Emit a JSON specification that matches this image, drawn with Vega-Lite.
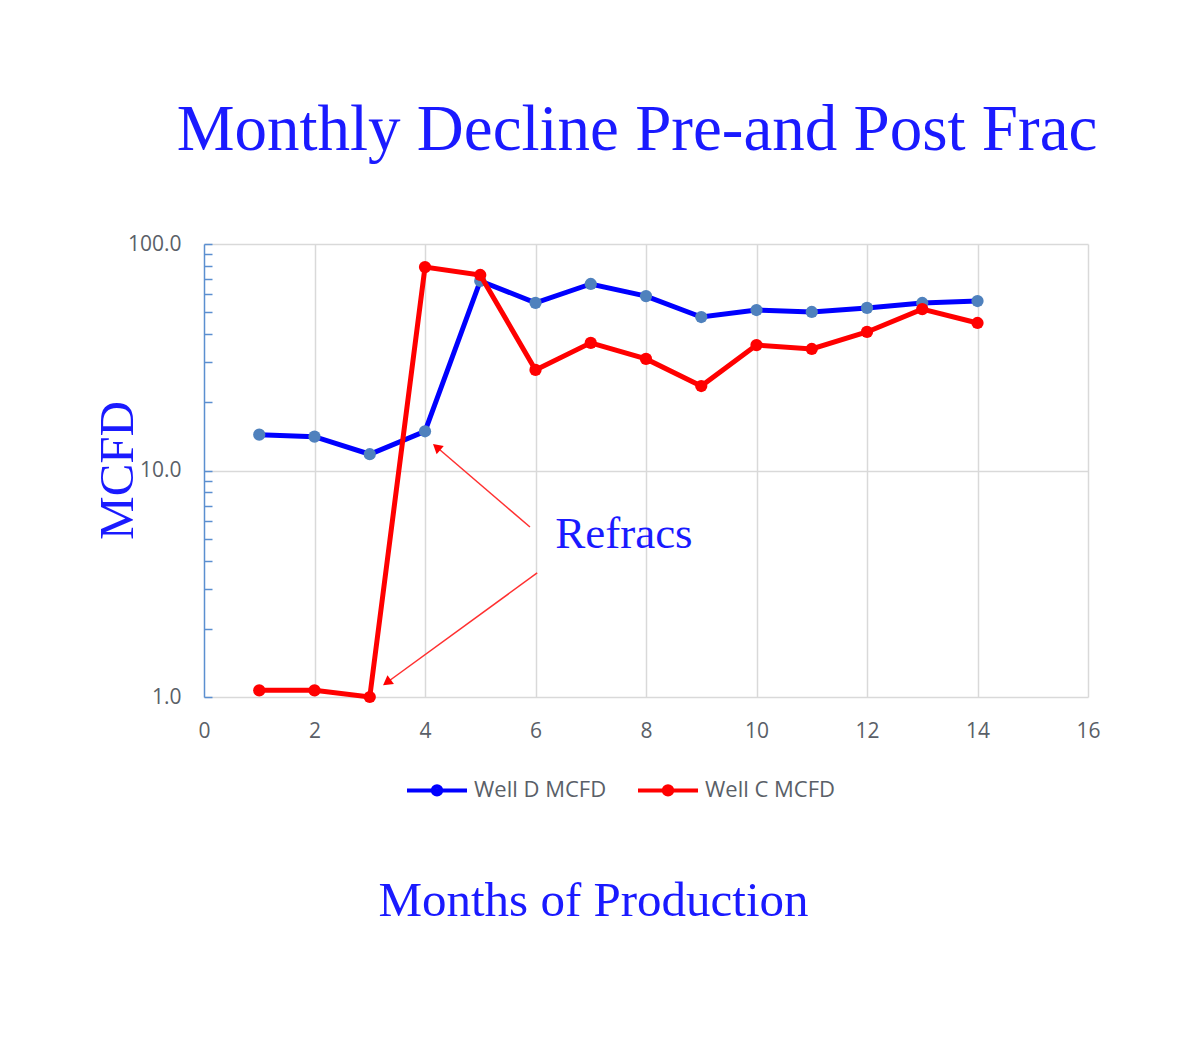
{
  "$schema": "https://vega.github.io/schema/vega-lite/v6.json",
  "width": 884,
  "height": 453,
  "autosize": {"type": "none"},
  "padding": {"left": 204, "top": 244, "right": 92, "bottom": 353},
  "background": "white",
  "title": {
    "text": "Monthly Decline Pre-and Post Frac",
    "font": "Liberation Serif",
    "fontSize": 65,
    "fontWeight": "normal",
    "color": "#1a1aff",
    "anchor": "middle",
    "frame": "group",
    "baseline": "alphabetic",
    "offset": 18,
    "dx": -9
  },
  "config": {"view": {"stroke": null}},
  "datasets": {
    "wells": [
      {"month": 1, "mcfd": 14.4, "well": "Well D MCFD"},
      {"month": 2, "mcfd": 14.1, "well": "Well D MCFD"},
      {"month": 3, "mcfd": 11.8, "well": "Well D MCFD"},
      {"month": 4, "mcfd": 14.9, "well": "Well D MCFD"},
      {"month": 5, "mcfd": 68.7, "well": "Well D MCFD"},
      {"month": 6, "mcfd": 55.0, "well": "Well D MCFD"},
      {"month": 7, "mcfd": 66.6, "well": "Well D MCFD"},
      {"month": 8, "mcfd": 58.9, "well": "Well D MCFD"},
      {"month": 9, "mcfd": 47.6, "well": "Well D MCFD"},
      {"month": 10, "mcfd": 51.1, "well": "Well D MCFD"},
      {"month": 11, "mcfd": 50.1, "well": "Well D MCFD"},
      {"month": 12, "mcfd": 52.2, "well": "Well D MCFD"},
      {"month": 13, "mcfd": 54.9, "well": "Well D MCFD"},
      {"month": 14, "mcfd": 56.0, "well": "Well D MCFD"},
      {"month": 1, "mcfd": 1.07, "well": "Well C MCFD"},
      {"month": 2, "mcfd": 1.07, "well": "Well C MCFD"},
      {"month": 3, "mcfd": 1.0, "well": "Well C MCFD"},
      {"month": 4, "mcfd": 79.1, "well": "Well C MCFD"},
      {"month": 5, "mcfd": 73.0, "well": "Well C MCFD"},
      {"month": 6, "mcfd": 27.8, "well": "Well C MCFD"},
      {"month": 7, "mcfd": 36.6, "well": "Well C MCFD"},
      {"month": 8, "mcfd": 31.1, "well": "Well C MCFD"},
      {"month": 9, "mcfd": 23.6, "well": "Well C MCFD"},
      {"month": 10, "mcfd": 35.8, "well": "Well C MCFD"},
      {"month": 11, "mcfd": 34.4, "well": "Well C MCFD"},
      {"month": 12, "mcfd": 40.9, "well": "Well C MCFD"},
      {"month": 13, "mcfd": 51.6, "well": "Well C MCFD"},
      {"month": 14, "mcfd": 44.8, "well": "Well C MCFD"}
    ]
  },
  "encoding": {
    "x": {
      "field": "month",
      "type": "quantitative",
      "scale": {"domain": [0, 16], "nice": false, "zero": false},
      "axis": {
        "title": "Months of Production",
        "titleFont": "Liberation Serif",
        "titleFontSize": 49,
        "titleFontWeight": "normal",
        "titleColor": "#1a1aff",
        "titleX": 389,
        "titleY": 218,
        "titleAlign": "center",
        "titleBaseline": "alphabetic",
        "values": [0, 2, 4, 6, 8, 10, 12, 14, 16],
        "format": "d",
        "labelFont": "Open Sans",
        "labelFontSize": 21,
        "labelColor": "#5a5f68",
        "labelPadding": 23,
        "labelFlush": false,
        "ticks": false,
        "domainColor": "#d9d9d9",
        "domainWidth": 1.5,
        "gridColor": "#d9d9d9",
        "gridWidth": 1.5,
        "gridOpacity": {"condition": {"test": "datum.value > 0", "value": 1}, "value": 0}
      }
    },
    "y": {
      "field": "mcfd",
      "type": "quantitative",
      "scale": {"type": "log", "domain": [1, 100], "nice": false},
      "axis": {
        "title": "MCFD",
        "titleFont": "Liberation Serif",
        "titleFontSize": 49,
        "titleFontWeight": "normal",
        "titleColor": "#1a1aff",
        "titleX": -72,
        "titleY": 226,
        "titleAngle": -90,
        "titleAlign": "center",
        "titleBaseline": "alphabetic",
        "values": [1, 2, 3, 4, 5, 6, 7, 8, 9, 10, 20, 30, 40, 50, 60, 70, 80, 90, 100],
        "labelExpr": "(datum.value == 1 || datum.value == 10 || datum.value == 100) ? format(datum.value, '.1f') : ''",
        "labelFont": "Open Sans",
        "labelFontSize": 21,
        "labelColor": "#5a5f68",
        "labelPadding": 31,
        "labelFlush": false,
        "labelOverlap": false,
        "tickSize": -8,
        "tickColor": "#5b8fd0",
        "tickWidth": 1.5,
        "domainColor": "#5b8fd0",
        "domainWidth": 1.5,
        "gridColor": "#d9d9d9",
        "gridWidth": 1.5,
        "gridOpacity": {"condition": {"test": "datum.value == 10 || datum.value == 100", "value": 1}, "value": 0}
      }
    }
  },
  "layer": [
    {
      "data": {"name": "wells"},
      "transform": [{"filter": "datum.well === 'Well D MCFD'"}],
      "mark": {"type": "line", "strokeWidth": 5},
      "encoding": {
        "color": {
          "field": "well",
          "type": "nominal",
          "scale": {"domain": ["Well D MCFD", "Well C MCFD"], "range": ["#0000ff", "#ff0000"]},
          "legend": {
            "title": null,
            "orient": "none",
            "legendX": 201,
            "legendY": 514,
            "direction": "horizontal",
            "symbolType": "M-1,0L1,0M0.14,0A0.14,0.14 0 1 1 -0.14,0A0.14,0.14 0 1 1 0.14,0Z",
            "symbolSize": 3600,
            "symbolStrokeWidth": 4,
            "labelFont": "Open Sans",
            "labelFontSize": 22,
            "labelColor": "#5a5f68",
            "labelOffset": 5,
            "columnPadding": 23,
            "encode": {
              "symbols": {
                "update": {
                  "fill": {"signal": "datum.value === 'Well D MCFD' ? '#4f81bd' : '#ff0000'"},
                  "opacity": {"value": 1}
                }
              }
            }
          }
        }
      }
    },
    {
      "data": {"name": "wells"},
      "transform": [{"filter": "datum.well === 'Well D MCFD'"}],
      "mark": {"type": "point", "filled": true, "size": 150, "color": "#4f81bd", "opacity": 1}
    },
    {
      "data": {"name": "wells"},
      "transform": [{"filter": "datum.well === 'Well C MCFD'"}],
      "mark": {"type": "line", "strokeWidth": 5},
      "encoding": {
        "color": {"field": "well", "type": "nominal"}
      }
    },
    {
      "data": {"name": "wells"},
      "transform": [{"filter": "datum.well === 'Well C MCFD'"}],
      "mark": {"type": "point", "filled": true, "size": 150, "color": "#ff0000", "opacity": 1}
    },
    {
      "data": {"values": [{"month": 5.9, "mcfd": 5.63, "month2": 4.21, "mcfd2": 12.7}]},
      "mark": {"type": "rule", "color": "#ff3030", "strokeWidth": 1.5},
      "encoding": {"x2": {"field": "month2"}, "y2": {"field": "mcfd2"}}
    },
    {
      "data": {"values": [{"month": 4.21, "mcfd": 12.7}]},
      "mark": {"type": "point", "shape": "triangle-up", "angle": 310.6, "filled": true, "color": "#ff0000", "size": 120, "opacity": 1}
    },
    {
      "data": {"values": [{"month": 6.03, "mcfd": 3.53, "month2": 3.31, "mcfd2": 1.159}]},
      "mark": {"type": "rule", "color": "#ff3030", "strokeWidth": 1.5},
      "encoding": {"x2": {"field": "month2"}, "y2": {"field": "mcfd2"}}
    },
    {
      "data": {"values": [{"month": 3.31, "mcfd": 1.159}]},
      "mark": {"type": "point", "shape": "triangle-up", "angle": 233.9, "filled": true, "color": "#ff0000", "size": 120, "opacity": 1}
    },
    {
      "data": {"values": [{"month": 7.6, "mcfd": 4.55, "label": "Refracs"}]},
      "mark": {"type": "text", "font": "Liberation Serif", "fontSize": 45, "color": "#1a1aff", "align": "center", "baseline": "alphabetic"},
      "encoding": {"text": {"field": "label"}}
    }
  ]
}
